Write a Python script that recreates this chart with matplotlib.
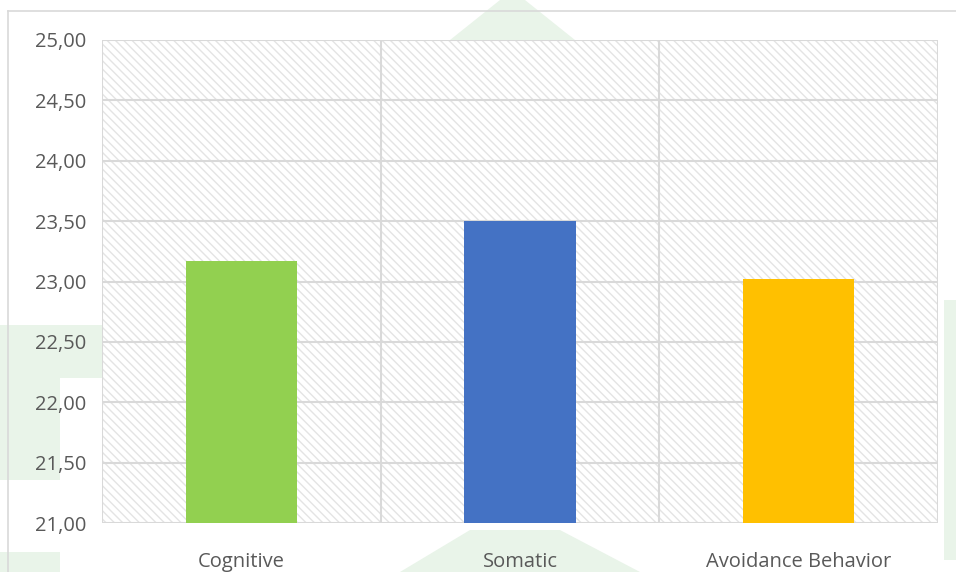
import numpy as np
import matplotlib.pyplot as plt
from matplotlib.patches import Polygon, Rectangle
from matplotlib.ticker import FuncFormatter

# data
categories = ["Cognitive", "Somatic", "Avoidance Behavior"]
values = [23.17, 23.50, 23.02]
bar_colors = ["#92d050", "#4472c4", "#ffc000"]
y_ticks = [21.0, 21.5, 22.0, 22.5, 23.0, 23.5, 24.0, 24.5, 25.0]

plt.rcParams['font.family'] = ['Open Sans', 'DejaVu Sans']
plt.rcParams['hatch.color'] = '#e4e4e4'
plt.rcParams['hatch.linewidth'] = 1.0

fig = plt.figure(figsize=(9.56, 5.72), dpi=100)
W, H = 956, 572

def px(x, y):
    # pixel coords (from top-left) -> figure fraction
    return (x / W, 1 - y / H)

# faint green watermark behind the chart
wm = "#e9f4e9"
shapes = [
    [(450, 40), (500, 0), (525, 0), (575, 40)],
    [(400, 572), (470, 530), (560, 530), (640, 572)],
    [(0, 325), (105, 325), (105, 378), (0, 378)],
    [(0, 378), (60, 378), (60, 480), (0, 480)],
    [(0, 552), (60, 552), (60, 572), (0, 572)],
    [(944, 300), (956, 300), (956, 560), (944, 560)],
]
for s in shapes:
    fig.patches.append(Polygon([px(*p) for p in s], closed=True,
                               transform=fig.transFigure, facecolor=wm,
                               edgecolor='none', zorder=-5))

# chart border (top and left visible)
fig.add_artist(plt.Line2D([8 / W, 1], [1 - 11 / H] * 2, transform=fig.transFigure,
                          color='#d9d9d9', lw=1.2, zorder=-4))
fig.add_artist(plt.Line2D([8 / W] * 2, [0, 1 - 11 / H], transform=fig.transFigure,
                          color='#d9d9d9', lw=1.2, zorder=-4))

ax = fig.add_axes([102 / W, 49 / H, 836 / W, 483 / H])
ax.set_zorder(2)
ax.set_facecolor('white')

x = np.arange(len(categories))
ax.set_xlim(-0.5, len(categories) - 0.5)
ax.set_ylim(21, 25)

# hatched plot area
ax.add_patch(Rectangle((-0.5, 21), len(categories), 4, facecolor='white',
                       hatch='\\\\\\\\', lw=0, zorder=0))

for t in y_ticks:
    ax.axhline(t, color='#d9d9d9', lw=1.5, zorder=1)
for b in np.arange(-0.5, len(categories) + 0.5, 1.0):
    ax.axvline(b, color='#d9d9d9', lw=1.5, zorder=1)

ax.bar(x, values, width=0.40, color=bar_colors, zorder=2)

ax.set_yticks(y_ticks)
ax.yaxis.set_major_formatter(FuncFormatter(lambda v, p: f"{v:.2f}".replace('.', ',')))
ax.set_xticks(x)
ax.set_xticklabels(categories)
ax.tick_params(axis='both', length=0, labelsize=14.5, colors='#595959')
ax.tick_params(axis='y', pad=11)
ax.tick_params(axis='x', pad=21)
for sp in ax.spines.values():
    sp.set_visible(False)

fig.savefig("out.png", dpi=100)
